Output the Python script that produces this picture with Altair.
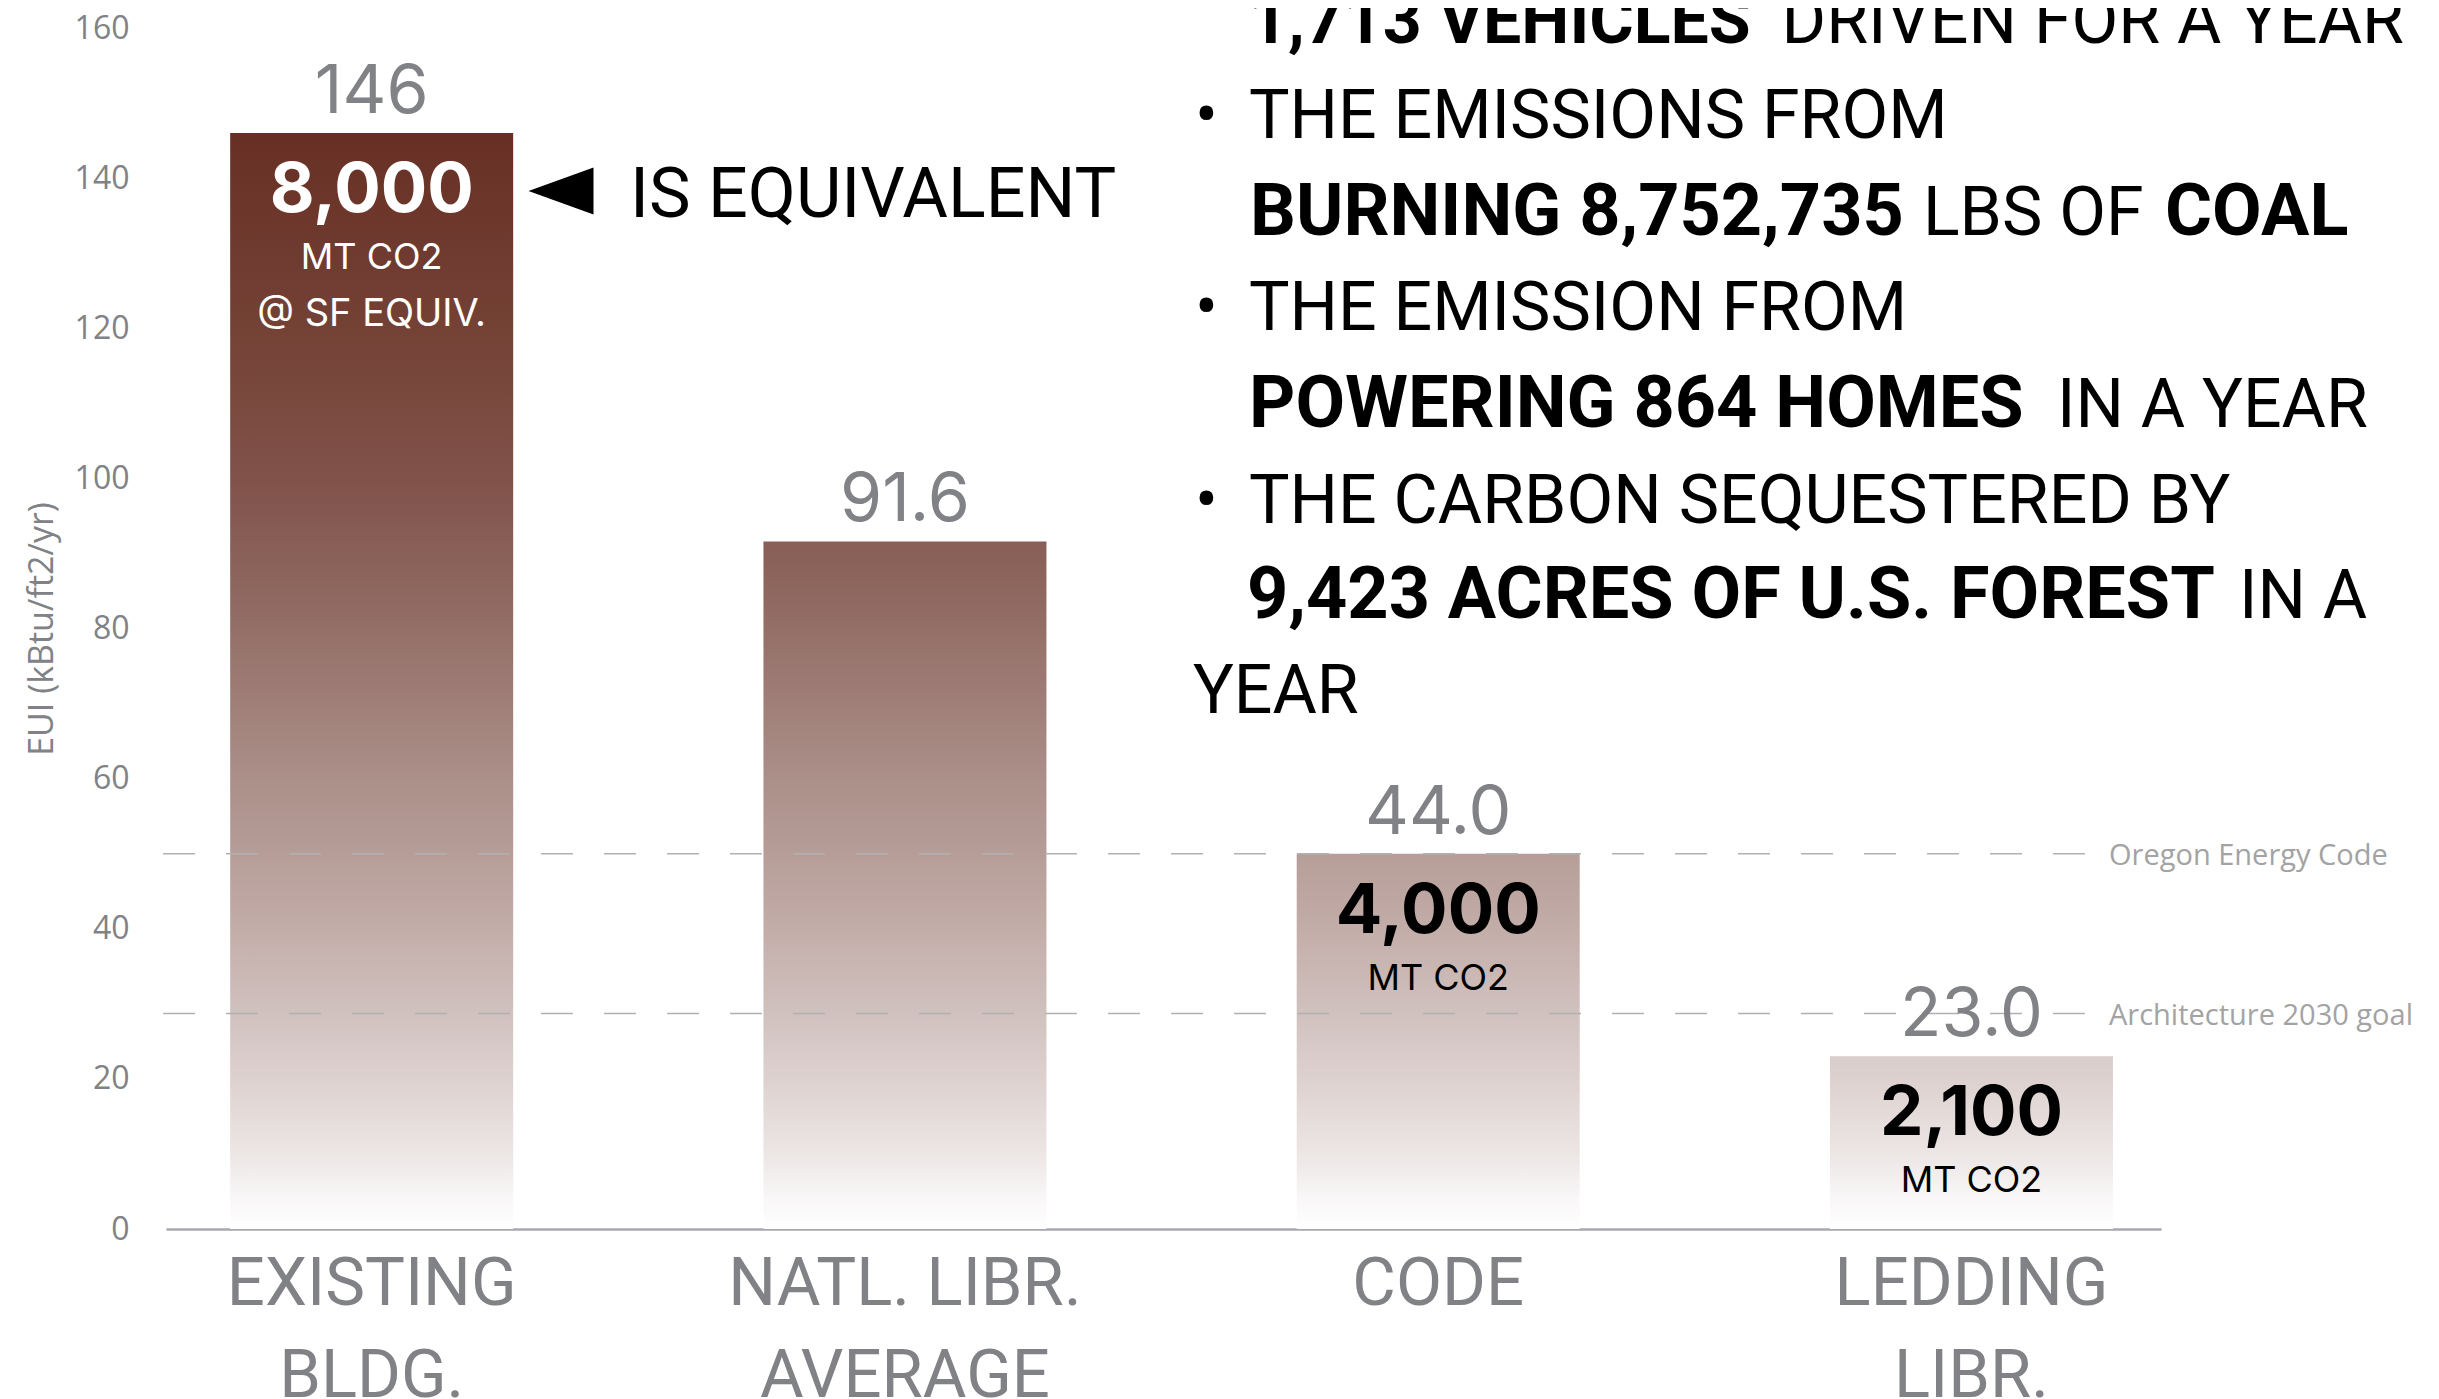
import altair as alt
import pandas as pd

# ---------------- data ----------------
categories = ["EXISTING\nBLDG.", "NATL. LIBR.\nAVERAGE", "CODE", "LEDDING\nLIBR."]
eui_bar = [146, 91.6, 50, 23]
eui_label = ["146", "91.6", "44.0", "23.0"]
co2_value = ["8,000", "", "4,000", "2,100"]
co2_unit = ["MT CO2", "", "MT CO2", "MT CO2"]
co2_note = ["@ SF EQUIV.", "", "", ""]

ref_names = ["Oregon Energy Code", "Architecture 2030 goal"]
ref_values = [50, 28.7]

y_ticks = [0, 20, 40, 60, 80, 100, 120, 140, 160]

equiv_head = "IS EQUIVALENT"
equiv_lines = [
    [("1,713 VEHICLES", True), ("DRIVEN FOR A YEAR", False)],
    [("•", False), ("THE EMISSIONS FROM", False)],
    [("BURNING 8,752,735", True), ("LBS OF", False), ("COAL", True)],
    [("•", False), ("THE EMISSION FROM", False)],
    [("POWERING 864 HOMES", True), ("IN A YEAR", False)],
    [("•", False), ("THE CARBON SEQUESTERED BY", False)],
    [("9,423 ACRES OF U.S. FOREST", True), ("IN A", False)],
    [("YEAR", False)],
]

# ---------------- layout / style ----------------
W, H = 1995, 1201
# (x position, alignment, font size) for each text segment, in plot pixels
seg_pos = [
    [(1083, "left", 68), (2238, "right", 68)],
    [(1029, "left", 68), (1083, "left", 68)],
    [(1084, "left", 72), (1757, "left", 68), (1999, "left", 72)],
    [(1029, "left", 68), (1083, "left", 68)],
    [(1083, "left", 72), (1891, "left", 68)],
    [(1029, "left", 68), (1083, "left", 68)],
    [(1081, "left", 72), (2073, "left", 68)],
    [(1027, "left", 68)],
]
line_y = [15, 110, 207, 302, 399, 495, 590, 685]

GRAY = "#808285"
BLOCK_FONT = "Roboto"
NUM_FONT = "Inter"
AX_FONT = "Open Sans"

grad_v = [146, 130, 115, 100, 85, 75, 60, 50, 40, 30, 20, 10, 4, 0]
grad_c = ["#683025", "#6f3a2f", "#774539", "#80524a", "#8e675f", "#9a7770",
          "#ab8f89", "#b69d98", "#c3ada9", "#cfbfbc", "#ddd1cf", "#ece6e5",
          "#f9f7f7", "#ffffff"]


def _rgb(h):
    h = h.lstrip("#")
    return [int(h[i:i + 2], 16) for i in (0, 2, 4)]


def color_at(v):
    for i in range(len(grad_v) - 1):
        a, b = grad_v[i], grad_v[i + 1]
        if b <= v <= a:
            t = (a - v) / (a - b)
            ca, cb = _rgb(grad_c[i]), _rgb(grad_c[i + 1])
            c = [round(ca[k] + (cb[k] - ca[k]) * t) for k in range(3)]
            return "#%02x%02x%02x" % tuple(c)
    return grad_c[0]


def bar_gradient(top):
    stops = [alt.GradientStop(color=color_at(top), offset=0)]
    for v, c in zip(grad_v, grad_c):
        if v < top:
            stops.append(alt.GradientStop(color=c, offset=round(1 - v / top, 4)))
    return alt.Gradient(gradient="linear", stops=stops, x1=0, x2=0, y1=0, y2=1)


df = pd.DataFrame({
    "cat": categories,
    "eui": eui_bar,
    "lab": eui_label,
    "co2": co2_value,
    "unit": co2_unit,
    "note": co2_note,
})
ref_df = pd.DataFrame({"name": ref_names, "eui": ref_values})

x_enc = alt.X(
    "cat:N",
    sort=categories,
    scale=alt.Scale(domain=categories, paddingInner=0.4693, paddingOuter=0.1052, align=0.572),
    axis=alt.Axis(
        title=None, labelAngle=0, ticks=False, tickSize=0, grid=False,
        domainColor="#a7a9ac", domainWidth=2.5,
        labelFont=BLOCK_FONT, labelFontSize=67, labelColor=GRAY, labelLimit=900,
        labelLineHeight=92, labelBaseline="top", labelPadding=22,
        labelExpr="split(datum.label, '\\n')",
    ),
)
y_enc = alt.Y(
    "eui:Q",
    scale=alt.Scale(domain=[0, 160], nice=False, zero=True),
    axis=alt.Axis(
        values=y_ticks, title="EUI (kBtu/ft2/yr)", domain=False, ticks=False, tickSize=0,
        grid=False, labelFont=AX_FONT, labelFontSize=32, labelColor=GRAY,
        labelPadding=37, labelFlush=False,
        titleFont=AX_FONT, titleFontSize=34, titleFontWeight="normal", titleColor=GRAY,
        titleAngle=270, titleX=-124, titleY=H / 2, titleAlign="center", titleBaseline="middle",
    ),
)

base = alt.Chart(df)
layers = []

# bars, each with gradient tied to the common value axis
for cat, v in zip(categories, eui_bar):
    layers.append(
        base.transform_filter(alt.datum.cat == cat)
        .mark_bar(color=bar_gradient(v))
        .encode(x=x_enc, y=y_enc)
    )

# reference lines
rules = alt.Chart(ref_df).mark_rule(
    strokeDash=[32, 31], color="#b1b1b1", strokeWidth=1.5
).encode(y=y_enc, x=alt.value(-3), x2=alt.value(1925))
ref_text = alt.Chart(ref_df).mark_text(
    align="left", baseline="middle", font=AX_FONT, fontSize=29, color="#a3a3a3", dy=2
).encode(y=y_enc, x=alt.value(1943), text="name:N")
layers += [rules, ref_text]

# value labels above bars
layers.append(
    base.mark_text(font=NUM_FONT, fontSize=68, color=GRAY, baseline="alphabetic", dy=-20)
    .encode(x=x_enc, y=y_enc, text="lab:N")
)

txt_color = alt.condition("datum.eui > 100", alt.value("white"), alt.value("black"))
layers.append(
    base.transform_filter("datum.co2 != ''")
    .mark_text(font=NUM_FONT, fontSize=69, fontWeight="bold", baseline="alphabetic", dy=79)
    .encode(x=x_enc, y=y_enc, text="co2:N", color=txt_color)
)
layers.append(
    base.transform_filter("datum.unit != ''")
    .mark_text(font=NUM_FONT, fontSize=36, baseline="alphabetic", dy=136)
    .encode(x=x_enc, y=y_enc, text="unit:N", color=txt_color)
)
layers.append(
    base.transform_filter("datum.note != ''")
    .mark_text(font=NUM_FONT, fontSize=38, baseline="alphabetic", dy=193)
    .encode(x=x_enc, y=y_enc, text="note:N", color=txt_color)
)

# annotation: arrow + "IS EQUIVALENT"
one = pd.DataFrame({"t": [equiv_head]})
layers.append(
    alt.Chart(one).mark_point(
        shape="M1,-0.72L-1,0L1,0.72Z", filled=True, color="black", opacity=1,
        size=65 * 65, strokeWidth=0,
    ).encode(x=alt.value(395), y=alt.value(163))
)
layers.append(
    alt.Chart(one).mark_text(
        font=BLOCK_FONT, fontSize=70, color="black", align="left", baseline="alphabetic"
    ).encode(text="t:N", x=alt.value(464), y=alt.value(189))
)

# annotation block
for li, segs in enumerate(equiv_lines):
    for si, (txt, bold) in enumerate(segs):
        d = pd.DataFrame({"t": [txt]})
        px, al, fs = seg_pos[li][si]
        layers.append(
            alt.Chart(d).mark_text(
                font=BLOCK_FONT, fontSize=fs, color="black", align=al,
                baseline="alphabetic", fontWeight="bold" if bold else "normal",
            ).encode(text="t:N", x=alt.value(px), y=alt.value(line_y[li]))
        )

chart = alt.layer(*layers).properties(
    width=W, height=H,
    autosize=alt.AutoSizeParams(type="none"),
    padding={"left": 158, "top": 20, "right": 265, "bottom": 172},
    background="white",
).configure_view(stroke=None)

chart.save("out.html", embed_options={"renderer": "svg", "actions": False})
